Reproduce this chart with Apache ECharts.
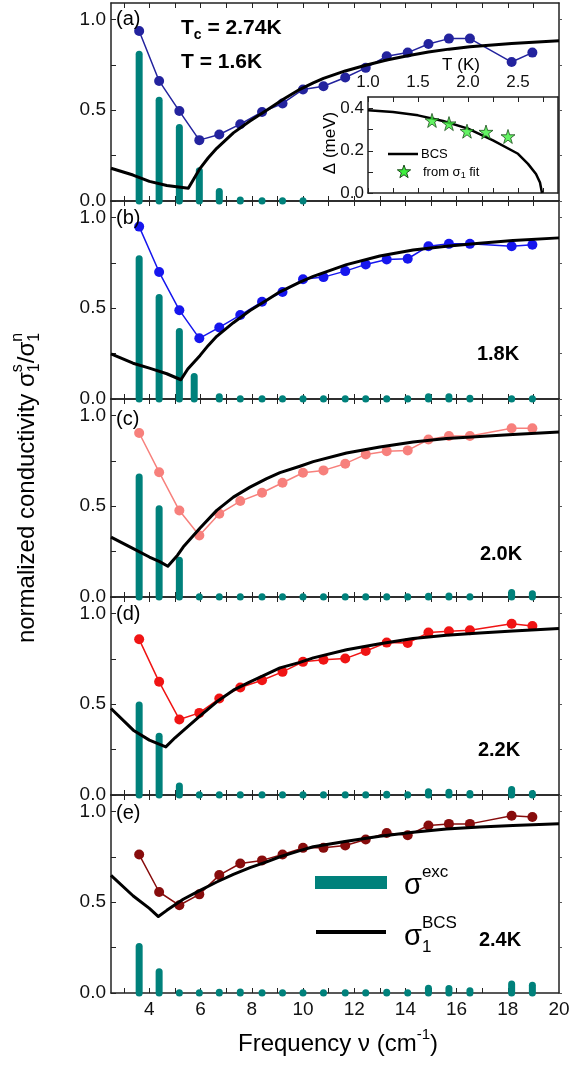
<!DOCTYPE html>
<html>
<head>
<meta charset="utf-8">
<script src="https://cdn.jsdelivr.net/npm/echarts@6/dist/echarts.min.js"></script>
<style>
html, body { margin: 0; padding: 0; background: #fff; }
#chart { width: 578px; height: 1065px; }
</style>
</head>
<body>
<div id="chart"></div>
<script>
var FONT = '"Liberation Sans", Arial, sans-serif';
var teal = '#00817b';

// frequencies of the measured points (cm^-1)
var freq = [3.6, 4.38, 5.17, 5.95, 6.73, 7.55, 8.4, 9.2, 10.0, 10.8, 11.65, 12.45, 13.27, 14.09, 14.9, 15.7, 16.52, 18.15, 18.96];
// panel (b) has its 4th excess bar slightly lower in frequency
var freqB = [3.6, 4.38, 5.17, 5.75, 6.73, 7.55, 8.4, 9.2, 10.0, 10.8, 11.65, 12.45, 13.27, 14.09, 14.9, 15.7, 16.52, 18.15, 18.96];

// sigma1s / sigma1n, measured
var sigA = [0.936, 0.661, 0.495, 0.335, 0.366, 0.423, 0.49, 0.537, 0.614, 0.632, 0.68, 0.733, 0.797, 0.817, 0.864, 0.894, 0.894, 0.765, 0.817];
var sigB = [0.949, 0.699, 0.489, 0.334, 0.394, 0.462, 0.535, 0.589, 0.659, 0.671, 0.704, 0.741, 0.768, 0.772, 0.841, 0.854, 0.854, 0.841, 0.849];
var sigC = [0.903, 0.687, 0.476, 0.339, 0.458, 0.528, 0.574, 0.629, 0.684, 0.697, 0.734, 0.785, 0.803, 0.807, 0.867, 0.886, 0.886, 0.929, 0.929];
var sigD = [0.857, 0.623, 0.416, 0.452, 0.531, 0.592, 0.632, 0.678, 0.733, 0.745, 0.751, 0.793, 0.839, 0.837, 0.894, 0.901, 0.907, 0.943, 0.93];
var sigE = [0.762, 0.556, 0.483, 0.543, 0.649, 0.713, 0.73, 0.762, 0.799, 0.799, 0.812, 0.845, 0.881, 0.868, 0.922, 0.931, 0.931, 0.976, 0.969];

// excess conductivity sigma_exc
var excA = [0.808, 0.555, 0.405, 0.167, 0.052, 0.005, 0.002, 0.002, 0.002, 0, 0, 0, 0, 0, 0, 0, 0, 0, 0];
var excB = [0.772, 0.559, 0.371, 0.124, 0.012, 0.002, 0.002, 0.002, 0.002, 0.002, 0.002, 0.002, 0.002, 0.002, 0.012, 0.012, 0.004, 0.002, 0.002];
var excC = [0.661, 0.486, 0.202, 0.002, 0.002, 0.002, 0.002, 0.002, 0.002, 0.002, 0.002, 0.002, 0.002, 0.002, 0.004, 0.006, 0.002, 0.025, 0.018];
var excD = [0.495, 0.324, 0.05, 0.002, 0.002, 0.002, 0.002, 0.002, 0.002, 0.002, 0.002, 0.002, 0.004, 0.002, 0.018, 0.015, 0.008, 0.03, 0.008];
var excE = [0.256, 0.117, 0.001, 0.001, 0.004, 0.006, 0.001, 0.001, 0.001, 0.001, 0.001, 0.001, 0.004, 0.001, 0.026, 0.025, 0.012, 0.049, 0.042];

// BCS curves
var bcsXA = [2.5, 3.36, 4.0, 4.68, 5.52, 5.75, 5.98, 6.3, 6.63, 7.28, 7.93, 8.58, 9.23, 9.88, 10.4, 10.8, 11.65, 12.45, 13.27, 14.09, 14.9, 15.7, 16.52, 18.15, 20];
var bcsA  = [0.18, 0.143, 0.108, 0.085, 0.07, 0.125, 0.18, 0.238, 0.29, 0.375, 0.44, 0.5, 0.56, 0.615, 0.65, 0.675, 0.716, 0.747, 0.776, 0.8, 0.82, 0.836, 0.849, 0.867, 0.882];
var bcsXB = [2.5, 3.36, 4.0, 4.68, 5.23, 5.5, 5.98, 6.3, 6.63, 7.28, 7.93, 8.58, 9.1, 9.88, 10.4, 11.7, 13.0, 14.3, 15.6, 16.9, 18.2, 20];
var bcsB  = [0.248, 0.197, 0.17, 0.139, 0.106, 0.165, 0.24, 0.295, 0.345, 0.42, 0.487, 0.544, 0.59, 0.643, 0.675, 0.74, 0.787, 0.82, 0.841, 0.858, 0.872, 0.887];
var bcsXC = [2.5, 3.37, 4.0, 4.4, 4.72, 5.1, 5.32, 5.98, 6.63, 7.28, 7.93, 8.58, 9.1, 9.88, 10.4, 11.7, 13.0, 14.3, 15.6, 16.9, 18.2, 20];
var bcsC  = [0.33, 0.266, 0.22, 0.195, 0.169, 0.23, 0.275, 0.38, 0.477, 0.55, 0.605, 0.652, 0.685, 0.72, 0.745, 0.793, 0.826, 0.853, 0.872, 0.884, 0.895, 0.908];
var bcsXD = [2.5, 3.37, 4.0, 4.64, 5.0, 5.32, 5.98, 6.63, 7.28, 7.93, 8.58, 9.1, 9.88, 10.4, 11.7, 13.0, 14.3, 15.6, 16.9, 18.2, 20];
var bcsD  = [0.476, 0.357, 0.302, 0.265, 0.315, 0.355, 0.435, 0.513, 0.577, 0.623, 0.665, 0.7, 0.73, 0.755, 0.8, 0.833, 0.861, 0.879, 0.892, 0.903, 0.916];
var bcsXE = [2.5, 3.37, 4.0, 4.35, 4.68, 5.32, 5.98, 6.63, 7.28, 7.93, 8.58, 9.1, 9.88, 10.4, 11.7, 13.0, 14.3, 15.6, 16.9, 18.2, 20];
var bcsE  = [0.647, 0.534, 0.466, 0.421, 0.455, 0.516, 0.565, 0.611, 0.653, 0.69, 0.722, 0.75, 0.784, 0.805, 0.835, 0.863, 0.885, 0.903, 0.914, 0.922, 0.932];

// inset: gap vs temperature
var insetT   = [1.0, 1.25, 1.5, 1.75, 2.0, 2.25, 2.5, 2.6, 2.68, 2.72, 2.74];
var insetBCS = [0.392, 0.384, 0.368, 0.341, 0.305, 0.249, 0.186, 0.138, 0.09, 0.05, 0.0];
var starT   = [1.64, 1.81, 1.99, 2.18, 2.40];
var starGap = [0.344, 0.329, 0.293, 0.289, 0.268];

// ticks
var xTicks = [3, 4, 5, 6, 7, 8, 9, 10, 11, 12, 13, 14, 15, 16, 17, 18, 19];
var xLabels = [4, 6, 8, 10, 12, 14, 16, 18, 20];
var yTicks = [0, 0.25, 0.5, 0.75, 1.0];
var yLabels = [0, 0.5, 1.0];
var insXTicks = [1.0, 1.25, 1.5, 1.75, 2.0, 2.25, 2.5, 2.75];
var insXLabels = [1.0, 1.5, 2.0, 2.5];
var insYTicks = [0, 0.1, 0.2, 0.3, 0.4];
var insYLabels = [0, 0.2, 0.4];

var panels = [
  {bx: freq,  exc: excA, sig: sigA, color: '#23239e', cx: bcsXA, cy: bcsA},
  {bx: freqB, exc: excB, sig: sigB, color: '#1616ee', cx: bcsXB, cy: bcsB},
  {bx: freq,  exc: excC, sig: sigC, color: '#f7807c', cx: bcsXC, cy: bcsC},
  {bx: freq,  exc: excD, sig: sigD, color: '#f01414', cx: bcsXD, cy: bcsD},
  {bx: freq,  exc: excE, sig: sigE, color: '#870c0c', cx: bcsXE, cy: bcsE}
];
var panelTop = [3, 201, 399, 597, 795];

function zip(a, b) {
  return a.map(function (v, k) { return [v, b[k]]; });
}

var axisLine = {show: true, onZero: false, lineStyle: {color: '#222', width: 1.5}};

var grids = [], xAxes = [], yAxes = [], series = [];

panels.forEach(function (p, i) {
  grids.push({left: 111, top: panelTop[i], width: 448, height: 198, outerBoundsMode: 'none'});
  xAxes.push({
    gridIndex: i, type: 'value', min: 2.5, max: 20, position: 'bottom',
    axisLine: axisLine,
    axisTick: {inside: true, length: 5, customValues: xTicks, lineStyle: {color: '#222'}},
    axisLabel: {show: i === 4, customValues: xLabels, fontSize: 19, fontFamily: FONT, color: '#111', margin: 7},
    splitLine: {show: false}
  });
  xAxes.push({
    gridIndex: i, type: 'value', min: 2.5, max: 20, position: 'top',
    axisLine: axisLine,
    axisTick: {inside: true, length: 5, customValues: xTicks, lineStyle: {color: '#222'}},
    axisLabel: {show: false},
    splitLine: {show: false}
  });
  yAxes.push({
    gridIndex: i, type: 'value', min: 0, max: 1.09, position: 'left',
    axisLine: axisLine,
    axisTick: {inside: true, length: 5, customValues: yTicks, lineStyle: {color: '#222'}},
    axisLabel: {customValues: yLabels, fontSize: 19, fontFamily: FONT, color: '#111', margin: 5,
      formatter: function (v) { return v.toFixed(1); }},
    splitLine: {show: false}
  });
  yAxes.push({
    gridIndex: i, type: 'value', min: 0, max: 1.09, position: 'right',
    axisLine: axisLine,
    axisTick: {inside: false, length: 3, customValues: yTicks, lineStyle: {color: '#555'}},
    axisLabel: {show: false},
    splitLine: {show: false}
  });

  series.push({
    type: 'custom', xAxisIndex: 2 * i, yAxisIndex: 2 * i, clip: false, z: 2,
    data: zip(p.bx, p.exc),
    renderItem: function (params, api) {
      var v = api.value(1);
      if (!(v > 0)) return null;
      var p0 = api.coord([api.value(0), 0]);
      var p1 = api.coord([api.value(0), v]);
      return {
        type: 'line',
        shape: {x1: p0[0], y1: p0[1], x2: p1[0], y2: p1[1]},
        style: {stroke: teal, lineWidth: 7, lineCap: 'round'}
      };
    }
  });
  series.push({
    type: 'line', xAxisIndex: 2 * i, yAxisIndex: 2 * i, z: 3,
    data: zip(freq, p.sig),
    symbol: 'circle', symbolSize: 10,
    itemStyle: {color: p.color},
    lineStyle: {color: p.color, width: 1.5}
  });
  series.push({
    type: 'line', xAxisIndex: 2 * i, yAxisIndex: 2 * i, z: 4,
    data: zip(p.cx, p.cy),
    showSymbol: false, symbol: 'none',
    lineStyle: {color: '#000', width: 3, join: 'round'}
  });
});

// inset grid (index 5)
grids.push({left: 368, top: 97, width: 190, height: 96, outerBoundsMode: 'none'});
xAxes.push({
  gridIndex: 5, type: 'value', min: 1.0, max: 2.9, position: 'bottom',
  axisLine: axisLine,
  axisTick: {inside: true, length: 5, customValues: insXTicks, lineStyle: {color: '#222'}},
  axisLabel: {show: false}, splitLine: {show: false}
});
xAxes.push({
  gridIndex: 5, type: 'value', min: 1.0, max: 2.9, position: 'top',
  axisLine: axisLine,
  axisTick: {inside: true, length: 5, customValues: insXTicks, lineStyle: {color: '#222'}},
  axisLabel: {customValues: insXLabels, fontSize: 17, fontFamily: FONT, color: '#111', margin: 6,
    formatter: function (v) { return v.toFixed(1); }},
  splitLine: {show: false}
});
yAxes.push({
  gridIndex: 5, type: 'value', min: 0, max: 0.455, position: 'left',
  axisLine: axisLine,
  axisTick: {inside: true, length: 5, customValues: insYTicks, lineStyle: {color: '#222'}},
  axisLabel: {customValues: insYLabels, fontSize: 17, fontFamily: FONT, color: '#111', margin: 4,
    formatter: function (v) { return v.toFixed(1); }},
  splitLine: {show: false}
});
yAxes.push({
  gridIndex: 5, type: 'value', min: 0, max: 0.455, position: 'right',
  axisLine: axisLine, axisTick: {show: false}, axisLabel: {show: false}, splitLine: {show: false}
});
series.push({
  type: 'line', xAxisIndex: 10, yAxisIndex: 10, z: 4,
  data: zip(insetT, insetBCS), showSymbol: false, symbol: 'none',
  lineStyle: {color: '#000', width: 2.5, join: 'round'}
});
var starPath = 'path://M50,2 L61.8,38.2 L100,38.2 L69.1,60.6 L80.9,97 L50,74.5 L19.1,97 L30.9,60.6 L0,38.2 L38.2,38.2 Z';
series.push({
  type: 'scatter', xAxisIndex: 10, yAxisIndex: 10, z: 5,
  data: zip(starT, starGap), symbol: starPath, symbolSize: 14,
  itemStyle: {color: '#3cf03c', borderColor: '#1d4d1d', borderWidth: 1}
});

// ---- text helpers ----
var ctx = document.createElement('canvas').getContext('2d');
function textWidth(s, size, bold) {
  ctx.font = (bold ? 'bold ' : '') + size + 'px ' + FONT;
  return ctx.measureText(s).width;
}
// parts: {t, s (size), dy, adv}
function textRun(parts, x, y, opts) {
  opts = opts || {};
  var total = 0;
  parts.forEach(function (p) { if (p.adv !== false) total += textWidth(p.t, p.s, opts.bold); });
  var cx = opts.center ? -total / 2 : 0;
  var children = [];
  parts.forEach(function (p) {
    children.push({
      type: 'text', x: cx, y: p.dy || 0,
      style: {text: p.t, fontSize: p.s, fontFamily: FONT, fontWeight: opts.bold ? 'bold' : 'normal',
        fill: '#000', align: 'left', verticalAlign: 'middle'}
    });
    if (p.adv !== false) cx += textWidth(p.t, p.s, opts.bold);
  });
  return {type: 'group', x: x, y: y, rotation: opts.rotation || 0, children: children, z: 100};
}
function label(t, x, y, size, bold, align) {
  return {type: 'text', x: x, y: y, z: 100,
    style: {text: t, fontSize: size, fontFamily: FONT, fontWeight: bold ? 'bold' : 'normal',
      fill: '#000', align: align || 'left', verticalAlign: 'middle'}};
}
function starPoints(cx, cy, r) {
  var pts = [];
  for (var k = 0; k < 10; k++) {
    var a = -Math.PI / 2 + k * Math.PI / 5;
    var rr = k % 2 === 0 ? r : r * 0.4;
    pts.push([cx + rr * Math.cos(a), cy + rr * Math.sin(a)]);
  }
  return pts;
}

var graphics = [
  // axis titles
  textRun([{t: 'normalized conductivity σ', s: 24}, {t: 's', s: 16, dy: -9, adv: false}, {t: '1', s: 16, dy: 8},
           {t: '/σ', s: 24}, {t: 'n', s: 16, dy: -9, adv: false}, {t: '1', s: 16, dy: 8}],
          27, 488, {center: true, rotation: Math.PI / 2}),
  textRun([{t: 'Frequency ν (cm', s: 24}, {t: '-1', s: 15, dy: -9}, {t: ')', s: 24}], 338, 1044, {center: true}),
  // panel tags
  label('(a)', 116, 19, 20), label('(b)', 116, 218, 20), label('(c)', 116, 419, 20),
  label('(d)', 116, 614, 20), label('(e)', 116, 813, 20),
  // panel (a) header
  textRun([{t: 'T', s: 21}, {t: 'c', s: 14, dy: 7}, {t: ' = 2.74K', s: 21}], 181, 28, {bold: true}),
  label('T = 1.6K', 181, 62, 21, true),
  // temperatures
  label('1.8K', 498, 354, 20, true, 'center'),
  label('2.0K', 501, 554, 20, true, 'center'),
  label('2.2K', 499, 750, 20, true, 'center'),
  label('2.4K', 500, 940, 20, true, 'center'),
  // inset titles
  label('T (K)', 461, 65, 17, false, 'center'),
  {type: 'text', x: 330, y: 143, rotation: Math.PI / 2, z: 100,
   style: {text: 'Δ (meV)', fontSize: 17, fontFamily: FONT, fill: '#000', align: 'center', verticalAlign: 'middle'}},
  // inset legend
  {type: 'line', z: 100, shape: {x1: 388, y1: 154, x2: 418, y2: 154}, style: {stroke: '#000', lineWidth: 2.5}},
  label('BCS', 421, 154, 13),
  {type: 'polygon', z: 100, shape: {points: starPoints(404, 172, 7)},
   style: {fill: '#3cf03c', stroke: '#1d4d1d', lineWidth: 1}},
  textRun([{t: 'from σ', s: 13}, {t: '1', s: 9, dy: 4}, {t: ' fit', s: 13}], 423, 172),
  // main legend
  {type: 'rect', z: 100, shape: {x: 315, y: 876, width: 72, height: 13}, style: {fill: teal}},
  textRun([{t: 'σ', s: 29}, {t: 'exc', s: 17, dy: -14}], 404, 886),
  {type: 'line', z: 100, shape: {x1: 316, y1: 932, x2: 386, y2: 932}, style: {stroke: '#000', lineWidth: 4}},
  textRun([{t: 'σ', s: 29}, {t: 'BCS', s: 17, dy: -14, adv: false}, {t: '1', s: 17, dy: 10}], 404, 937)
];

var chart = echarts.init(document.getElementById('chart'), null, {renderer: 'canvas'});
chart.setOption({
  animation: false,
  backgroundColor: '#fff',
  grid: grids,
  xAxis: xAxes,
  yAxis: yAxes,
  series: series,
  graphic: graphics
});
</script>
</body>
</html>
